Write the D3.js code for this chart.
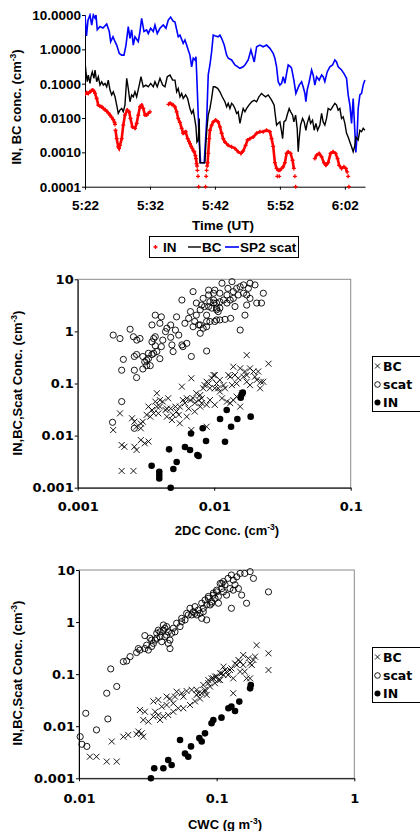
<!DOCTYPE html>
<html>
<head>
<meta charset="utf-8">
<script src="https://cdn.jsdelivr.net/npm/d3@7"></script>
<style>
  body { margin: 0; background: #fff; }
</style>
</head>
<body>
<script>
// ---- data: top panel (time in minutes after 5:00 UT, conc. in cm-3) ----
const timeTicks = [22, 32, 42, 52, 62];
const topYTicks = [0.0001, 0.001, 0.01, 0.1, 1, 10];

const sp2Scat = [[22.0,10],[22.23,2.44],[22.46,7.1],[22.77,10],[23.03,5.1],[23.28,10],[23.54,8.2],[23.69,10],[23.89,3.7],[24.31,4.6],[24.77,4.2],[25.34,5.5],[25.74,3.3],[25.95,1.67],[26.31,2.33],[26.62,1.67],[26.88,1.33],[27.28,0.76],[27.65,0.68],[28.0,0.68],[28.31,1.33],[28.66,4.6],[28.92,2.1],[29.18,3.7],[29.43,1.33],[29.69,2.33],[30.2,1.67],[30.46,3.3],[30.72,8.0],[31.08,3.3],[31.49,3.7],[31.74,2.9],[32.11,4.1],[32.51,3.3],[32.77,5.1],[33.12,2.9],[33.54,4.1],[34.05,5.1],[34.46,4.1],[34.82,7.1],[35.18,8.7],[35.54,6.7],[35.85,6.2],[36.35,2.33],[36.62,2.6],[37.12,1.5],[37.38,1.87],[37.65,1.33],[37.89,0.95],[38.15,0.68],[38.42,0.31],[38.66,0.55],[38.92,0.49],[39.08,0.61],[39.18,0.22],[39.43,0.0122],[39.58,0.002],[39.8,0.0005],[40.35,0.0005],[40.72,0.0077],[40.97,0.18],[41.23,0.35],[41.49,0.85],[41.74,2.6],[42.0,2.5],[42.51,2.33],[42.77,2.6],[43.03,2.1],[43.43,1.33],[43.8,0.68],[44.05,0.55],[44.57,0.49],[45.08,0.35],[45.85,0.28],[46.35,0.31],[46.62,0.35],[47.12,0.49],[47.54,0.95],[47.89,0.55],[48.05,0.43],[48.42,1.19],[48.92,1.33],[49.43,1.19],[49.95,1.33],[50.46,1.07],[50.97,0.76],[51.23,0.55],[51.49,0.31],[51.74,0.114],[52.0,0.091],[52.26,0.102],[52.51,0.159],[52.77,0.102],[53.03,0.2],[53.28,0.35],[53.65,0.31],[53.8,0.28],[54.15,0.127],[54.46,0.052],[54.66,0.065],[54.97,0.091],[55.34,0.114],[55.58,0.081],[55.85,0.052],[56.0,0.030],[56.2,0.065],[56.51,0.114],[56.88,0.25],[57.12,0.18],[57.38,0.091],[57.65,0.159],[58.05,0.127],[58.42,0.18],[58.66,0.159],[58.92,0.114],[59.28,0.22],[59.69,0.31],[60.11,0.35],[60.46,0.49],[60.72,0.43],[60.97,0.31],[61.49,0.25],[61.85,0.2],[62.26,0.143],[62.51,0.047],[62.77,0.024],[63.03,0.007],[63.28,0.037],[63.54,0.004],[63.69,0.001],[63.89,0.0032],[64.05,0.019],[64.31,0.047],[64.57,0.052],[64.82,0.091],[65.08,0.127]];

const bcTime = [[22.0,0.43],[22.15,0.22],[22.35,0.114],[22.51,0.178],[22.77,0.102],[22.92,0.159],[23.12,0.22],[23.38,0.143],[23.54,0.25],[23.8,0.114],[24.05,0.159],[24.31,0.091],[24.57,0.114],[24.82,0.091],[25.08,0.102],[25.34,0.081],[25.58,0.127],[25.85,0.065],[26.11,0.047],[26.35,0.058],[26.62,0.0415],[26.88,0.0238],[27.12,0.0136],[27.38,0.017],[27.65,0.019],[27.89,0.0152],[28.15,0.0238],[28.42,0.143],[28.66,0.073],[28.92,0.0297],[29.18,0.047],[29.43,0.0415],[29.69,0.058],[29.95,0.0415],[30.35,0.091],[30.62,0.159],[30.97,0.081],[31.38,0.091],[31.74,0.081],[32.11,0.102],[32.51,0.081],[32.77,0.114],[33.12,0.081],[33.54,0.143],[33.95,0.091],[34.31,0.081],[34.66,0.159],[35.08,0.178],[35.49,0.127],[35.85,0.127],[36.11,0.058],[36.35,0.073],[36.62,0.0415],[36.88,0.052],[37.12,0.037],[37.49,0.047],[37.8,0.037],[38.15,0.019],[38.42,0.0136],[38.66,0.017],[38.92,0.0087],[39.08,0.0055],[39.23,0.002],[39.43,0.0023],[39.58,0.0097],[39.69,0.0005],[40.46,0.0005],[40.62,0.002],[40.77,0.005],[40.97,0.0122],[41.23,0.019],[41.49,0.037],[41.74,0.081],[42.0,0.081],[42.42,0.073],[42.77,0.058],[43.12,0.0415],[43.54,0.0297],[43.8,0.0212],[44.05,0.0267],[44.31,0.019],[44.57,0.0267],[44.82,0.0238],[45.08,0.019],[45.34,0.0136],[45.58,0.0152],[45.85,0.007],[46.11,0.0122],[46.35,0.019],[46.62,0.0152],[46.88,0.019],[47.23,0.0238],[47.65,0.0297],[48.05,0.033],[48.42,0.0297],[48.77,0.0415],[49.18,0.052],[49.43,0.047],[49.8,0.0415],[50.2,0.047],[50.72,0.033],[51.12,0.0238],[51.23,0.0152],[51.49,0.0062],[51.74,0.007],[52.0,0.0077],[52.26,0.004],[52.42,0.0025],[52.62,0.0077],[52.92,0.0087],[53.12,0.0122],[53.43,0.019],[53.65,0.0152],[53.95,0.0122],[54.15,0.0077],[54.42,0.0122],[54.66,0.005],[54.82,0.00104],[54.97,0.0025],[55.18,0.0062],[55.49,0.0097],[55.74,0.0077],[56.0,0.0044],[56.2,0.007],[56.51,0.0108],[56.72,0.007],[57.03,0.0087],[57.28,0.0044],[57.54,0.007],[57.8,0.0044],[58.15,0.0062],[58.42,0.0136],[58.66,0.0077],[58.92,0.0062],[59.18,0.0097],[59.43,0.019],[59.8,0.017],[60.11,0.0212],[60.46,0.0267],[60.72,0.0238],[60.97,0.017],[61.23,0.019],[61.49,0.0097],[61.74,0.0108],[62.0,0.007],[62.26,0.0036],[62.51,0.0028],[62.77,0.002],[63.03,0.00145],[63.28,0.00104],[63.54,0.0016],[63.69,0.0028],[63.89,0.0025],[64.05,0.0023],[64.31,0.0044],[64.57,0.004],[64.82,0.005],[65.08,0.0044]];

// null = gap in the IN record
const inTime = [[22.0,0.050],[22.26,0.055],[22.51,0.052],[22.77,0.058],[23.0,0.063],[23.2,0.065],[23.4,0.06],[23.54,0.052],[23.8,0.037],[24.05,0.0238],[24.31,0.022],[24.6,0.0212],[24.82,0.019],[25.1,0.0175],[25.34,0.0159],[25.6,0.014],[25.85,0.0122],[26.1,0.0105],[26.35,0.009],[26.55,0.0075],[26.62,0.0065],null,
[26.7,0.0044],[26.88,0.0025],[27.12,0.00145],[27.25,0.0013],[27.38,0.0016],[27.65,0.0025],[27.89,0.0062],[28.15,0.0122],[28.5,0.017],[28.8,0.0152],[29.0,0.0097],[29.3,0.0055],[29.69,0.005],[29.95,0.007],[30.2,0.0122],[30.46,0.0212],[30.72,0.0238],[30.97,0.019],[31.23,0.0122],[31.49,0.0122],[31.74,0.0136],[32.0,0.0152],null,
[34.85,0.025],[35.1,0.0267],[35.35,0.025],[35.58,0.0238],[35.85,0.021],[36.11,0.0152],[36.35,0.0097],[36.6,0.0075],[36.88,0.005],[37.12,0.0036],[37.3,0.0038],[37.49,0.004],[37.8,0.0025],[38.0,0.0021],[38.15,0.0018],[38.35,0.0015],[38.51,0.0013],[38.7,0.0011],[38.82,0.00104],[39.0,0.0008],[39.08,0.00066],[39.18,0.00047],[39.25,0.0004],null,
[39.3,0.0003],null,[39.4,0.0002],null,[39.5,0.0001],null,
[40.55,0.0001],null,[40.65,0.0002],null,[40.72,0.0003],null,
[40.8,0.0004],[40.88,0.0005],[40.97,0.00093],[41.12,0.0025],[41.23,0.0044],[41.49,0.0062],[41.74,0.0077],[42.11,0.0087],[42.51,0.0077],[42.77,0.0055],[43.03,0.0036],[43.28,0.0025],[43.54,0.002],[44.05,0.0016],[44.57,0.00145],[45.08,0.0013],[45.58,0.00104],[46.0,0.00093],[46.35,0.0011],[46.72,0.0016],[47.03,0.0023],[47.38,0.0025],[47.89,0.0028],[48.42,0.0036],[48.92,0.004],[49.43,0.004],[49.95,0.0044],[50.46,0.004],[50.72,0.0025],[50.97,0.0015],[51.23,0.0005],[51.49,0.00034],[51.74,0.0003],[52.0,0.0003],[52.26,0.00034],[52.51,0.00038],[52.77,0.0005],[53.03,0.00093],[53.28,0.00104],[53.65,0.00093],[53.95,0.00059],[54.15,0.00034],null,
[54.31,0.0002],null,[54.42,0.0001],null,[51.6,0.0002],null,[51.9,0.0002],null,
[57.38,0.00066],[57.65,0.00083],[58.05,0.00093],[58.42,0.00074],[58.77,0.0005],[59.08,0.00042],[59.43,0.0005],[59.8,0.00093],[60.2,0.00104],[60.57,0.00093],[60.88,0.00066],[61.12,0.00042],[61.49,0.00034],[61.85,0.00038],[62.15,0.00034],[62.35,0.00027],null,
[62.51,0.0002],null,[62.62,0.0001]];

// ---- data: scatter panels ([x, conc]) ----
const scatYTicks = [0.001, 0.01, 0.1, 1, 10];
const ticks2DC = [0.001, 0.01, 0.1];
const ticksCWC = [0.01, 0.1, 1];

const scat2DC = [[0.00182,0.85],[0.00204,0.73],[0.00242,1.1],[0.00256,0.79],[0.00271,0.68],[0.00286,0.73],[0.00216,0.29],[0.0021,0.18],[0.0026,0.18],[0.0027,0.13],[0.0026,0.33],[0.0027,0.36],[0.0030,0.33],[0.0031,0.26],[0.0032,0.22],[0.0034,0.22],[0.0033,0.30],[0.0035,0.36],[0.0036,0.38],[0.0037,0.53],[0.0036,0.73],[0.0037,0.79],[0.0038,0.41],[0.0040,0.30],[0.0041,0.51],[0.0042,0.68],[0.0044,0.99],[0.0045,1.15],[0.0048,1.33],[0.0049,0.55],[0.0050,0.41],[0.0041,1.9],[0.0037,2.05],[0.0040,1.43],[0.0035,1.33],[0.0052,1.06],[0.0053,1.9],[0.0055,0.85],[0.0058,0.55],[0.0059,0.51],[0.0063,0.59],[0.0061,1.43],[0.0065,1.78],[0.0067,2.4],[0.0068,0.33],[0.0070,1.23],[0.0072,1.55],[0.0074,2.05],[0.0077,1.33],[0.0070,5.8],[0.0058,4.0],[0.0081,3.2],[0.0083,4.3],[0.0088,0.42],[0.0091,5.0],[0.0093,3.7],[0.0099,3.5],[0.0101,6.2],[0.0104,1.66],[0.0114,8.4],[0.0104,2.6],[0.0088,1.55],[0.0091,3.0],[0.0110,2.8],[0.0079,1.33],[0.0083,1.15],[0.0088,1.23],[0.0093,1.55],[0.0101,1.55],[0.0110,1.66],[0.0120,1.7],[0.0132,1.78],[0.0142,3.0],[0.0155,1.06],[0.0168,2.05],[0.0173,3.2],[0.0205,3.5],[0.0222,3.5],[0.0229,5.4],[0.0183,8.4],[0.0199,7.8],[0.0164,7.8],[0.0135,9.0],[0.0091,6.2],[0.0085,3.0],[0.0099,4.0],[0.0104,2.8],[0.0126,6.7],[0.0138,5.8],[0.0146,6.7],[0.0155,7.2],[0.0164,5.4],[0.0173,5.0],[0.0183,4.3],[0.0178,6.7],[0.0138,4.3],[0.0150,5.0],[0.0124,5.0],[0.0117,4.0],[0.0107,2.4],[0.0096,2.8],[0.0088,2.05],[0.0079,0.92],[0.0021,0.045],[0.0018,0.018],[0.0026,0.0138],[0.0032,0.28],[0.0030,0.19],[0.0035,0.63],[0.0033,0.38],[0.0048,0.77],[0.0079,2.6],[0.0074,3.5],[0.0099,5.4],[0.0110,5.4],[0.0124,3.5],[0.0131,4.0],[0.0110,3.7],[0.0104,3.5]];

const bc2DC = [[0.00182,0.0128],[0.00204,0.0267],[0.0021,0.0066],[0.0022,0.0061],[0.0021,0.0021],[0.00256,0.0021],[0.0026,0.0061],[0.0027,0.0053],[0.0031,0.0071],[0.0033,0.0077],[0.0025,0.0215],[0.0026,0.0185],[0.0027,0.0148],[0.0029,0.0138],[0.0030,0.0185],[0.0032,0.025],[0.0033,0.036],[0.0035,0.031],[0.0037,0.045],[0.0038,0.065],[0.0040,0.036],[0.0042,0.045],[0.0044,0.031],[0.0046,0.052],[0.0048,0.033],[0.0050,0.025],[0.0052,0.036],[0.0055,0.025],[0.0058,0.087],[0.0059,0.048],[0.0063,0.052],[0.0065,0.033],[0.0068,0.126],[0.0070,0.052],[0.0072,0.042],[0.0079,0.06],[0.0083,0.081],[0.0085,0.093],[0.0091,0.10],[0.0096,0.126],[0.0101,0.145],[0.0107,0.081],[0.0088,0.0148],[0.0079,0.036],[0.0093,0.048],[0.0173,0.35],[0.025,0.24],[0.0138,0.21],[0.0127,0.145],[0.0155,0.195],[0.0183,0.195],[0.0194,0.17],[0.021,0.17],[0.022,0.108],[0.0217,0.081],[0.0164,0.135],[0.0173,0.108],[0.0183,0.093],[0.0099,0.145],[0.0088,0.108],[0.0093,0.081],[0.0101,0.081],[0.0110,0.07],[0.0120,0.081],[0.0135,0.093],[0.0146,0.10],[0.0114,0.052],[0.0124,0.045],[0.0131,0.042],[0.0155,0.036],[0.0088,0.039],[0.0101,0.039],[0.0081,0.052],[0.0081,0.042],[0.016,0.065],[0.0173,0.145],[0.0038,0.036],[0.0034,0.0231],[0.0036,0.0267],[0.0039,0.0267],[0.0045,0.033],[0.0049,0.0199],[0.0053,0.029],[0.0056,0.036],[0.0061,0.042],[0.0067,0.048],[0.0074,0.065],[0.0077,0.048],[0.0104,0.10],[0.0110,0.117],[0.0117,0.093],[0.0131,0.135],[0.0142,0.145],[0.0150,0.126],[0.0168,0.17],[0.0199,0.135],[0.0205,0.117],[0.0229,0.108],[0.0029,0.0082],[0.0029,0.017],[0.0040,0.048],[0.0045,0.0231],[0.0056,0.0172],[0.0063,0.0231],[0.0072,0.029],[0.0138,0.048],[0.0146,0.056],[0.0068,0.0128]];

const in2DC = [[0.00348,0.00264],[0.00396,0.00203],[0.00396,0.00175],[0.00396,0.00151],[0.0048,0.001],[0.00467,0.00545],[0.00502,0.00228],[0.00531,0.00311],[0.00611,0.00604],[0.00665,0.00528],[0.00676,0.0110],[0.00753,0.00424],[0.00769,0.00405],[0.00824,0.0138],[0.00871,0.00787],[0.01104,0.0208],[0.0120,0.00764],[0.01235,0.0310],[0.01329,0.0148],[0.01478,0.0208],[0.01564,0.0534],[0.0159,0.062],[0.0162,0.0667],[0.0185,0.0231]];

const scatCWC = [[0.0102,0.0063],[0.0105,0.0045],[0.0114,0.0041],[0.0112,0.0177],[0.0134,0.0085],[0.0162,0.0138],[0.0159,0.043],[0.0188,0.058],[0.0170,0.126],[0.0210,0.174],[0.0222,0.179],[0.0235,0.217],[0.0262,0.26],[0.0277,0.29],[0.0270,0.31],[0.0301,0.31],[0.0310,0.36],[0.0319,0.29],[0.0337,0.34],[0.0347,0.39],[0.0357,0.45],[0.0367,0.61],[0.0388,0.52],[0.0399,0.42],[0.0410,0.70],[0.0421,0.76],[0.0433,0.82],[0.0445,0.65],[0.0458,0.45],[0.0471,0.61],[0.0377,0.70],[0.0410,0.88],[0.0301,0.55],[0.0328,0.49],[0.0421,0.52],[0.0445,0.39],[0.0458,0.31],[0.0498,0.65],[0.0512,0.95],[0.0542,0.82],[0.0557,1.18],[0.0589,1.10],[0.0622,1.37],[0.0640,1.84],[0.0677,1.58],[0.0696,1.98],[0.0716,1.37],[0.0736,1.71],[0.0779,2.3],[0.0800,1.84],[0.0823,2.65],[0.0846,1.10],[0.0870,3.1],[0.0895,2.13],[0.0920,2.47],[0.0946,3.3],[0.0973,2.86],[0.100,3.8],[0.103,2.3],[0.106,5.5],[0.109,4.4],[0.112,6.0],[0.0779,1.18],[0.0800,1.58],[0.0846,2.13],[0.087,2.86],[0.092,2.3],[0.0946,3.6],[0.100,4.1],[0.103,3.1],[0.109,5.5],[0.112,3.8],[0.115,5.2],[0.118,3.3],[0.125,4.4],[0.128,1.84],[0.132,6.4],[0.136,5.2],[0.140,7.4],[0.144,4.4],[0.148,8.6],[0.152,3.3],[0.160,8.6],[0.165,2.3],[0.175,9.3],[0.185,6.9],[0.238,3.8],[0.132,4.1],[0.121,6.9],[0.128,8.0],[0.0605,1.47],[0.0658,1.37],[0.0757,1.47],[0.0696,1.47],[0.0557,1.02],[0.0484,0.76],[0.0388,0.65],[0.0367,0.49],[0.0337,0.45],[0.0433,0.56]];

const bcCWC = [[0.0120,0.0026],[0.0134,0.0026],[0.0159,0.0021],[0.0188,0.0021],[0.0173,0.0051],[0.0210,0.0063],[0.0228,0.0068],[0.0270,0.0079],[0.0262,0.0070],[0.0285,0.0073],[0.0293,0.0063],[0.0277,0.0205],[0.0301,0.019],[0.0293,0.0132],[0.0319,0.0123],[0.0347,0.030],[0.0377,0.032],[0.0399,0.0238],[0.0433,0.0256],[0.0458,0.034],[0.0498,0.037],[0.0512,0.046],[0.0557,0.043],[0.0605,0.0475],[0.0658,0.050],[0.0716,0.040],[0.0736,0.043],[0.0800,0.062],[0.0870,0.077],[0.0920,0.083],[0.0973,0.090],[0.103,0.077],[0.109,0.104],[0.112,0.139],[0.0357,0.019],[0.0377,0.0164],[0.0410,0.0153],[0.0445,0.0164],[0.0484,0.019],[0.0527,0.0221],[0.0573,0.0221],[0.0640,0.0256],[0.0696,0.030],[0.0757,0.034],[0.0823,0.046],[0.0347,0.0153],[0.0388,0.0132],[0.195,0.36],[0.238,0.251],[0.238,0.120],[0.175,0.083],[0.132,0.043],[0.156,0.233],[0.170,0.201],[0.185,0.187],[0.180,0.150],[0.148,0.174],[0.140,0.150],[0.128,0.129],[0.118,0.112],[0.112,0.096],[0.106,0.077],[0.0973,0.067],[0.0895,0.058],[0.0823,0.050],[0.0779,0.043],[0.121,0.096],[0.148,0.112],[0.160,0.112],[0.165,0.083],[0.132,0.083],[0.106,0.104],[0.0946,0.083],[0.0846,0.040],[0.156,0.150],[0.125,0.120],[0.136,0.161],[0.144,0.187],[0.175,0.161],[0.190,0.217],[0.100,0.090],[0.115,0.120],[0.087,0.067],[0.0716,0.050],[0.0573,0.037],[0.0484,0.0275],[0.0433,0.037]];

const inCWC = [[0.0333,0.001],[0.0352,0.00156],[0.0410,0.00156],[0.0445,0.00225],[0.0471,0.0018],[0.0542,0.00545],[0.0589,0.0030],[0.0622,0.0026],[0.0651,0.0041],[0.0749,0.0059],[0.0779,0.0051],[0.0823,0.0073],[0.0918,0.0114],[0.0946,0.0132],[0.1084,0.0146],[0.1217,0.0221],[0.128,0.0238],[0.136,0.0196],[0.146,0.0297],[0.175,0.0534],[0.177,0.062]];

// ---- drawing ----
const FONT = '"Liberation Sans", Arial, Helvetica, sans-serif';
const WIDE = '"DejaVu Sans", Verdana, sans-serif';
const svg = d3.select("body").append("svg")
    .attr("width", 420).attr("height", 831)
    .attr("font-family", FONT).attr("font-weight", "bold");

function styleAxis(g, size, family) {
  g.attr("font-family", family || FONT).attr("font-size", size).attr("font-weight", "bold");
  g.selectAll("text").attr("fill", "#000");
  g.selectAll("line,path").attr("stroke", "#000");
}

// text with a "cm-3" style superscript
function supText(parent, x, y, pre, sup, post, size, rotate) {
  const t = parent.append("text")
    .attr("text-anchor", "middle").attr("font-size", size)
    .attr("transform", `translate(${x},${y})` + (rotate ? " rotate(-90)" : ""));
  t.append("tspan").text(pre);
  t.append("tspan").text(sup).attr("font-size", size * 0.65).attr("dy", -size * 0.4);
  t.append("tspan").text(post).attr("dy", size * 0.4);
  return t;
}

// ===== top panel: time series =====
const xTime = d3.scaleLinear().domain([22, 65.1]).range([85, 365]);
const yTop = d3.scaleLog().domain([0.0001, 10]).range([186.7, 15]);
const fmtTime = m => `${5 + Math.floor(m / 60)}:${String(m % 60).padStart(2, "0")}`;

svg.append("clipPath").attr("id", "clipTop")
  .append("rect").attr("x", 85).attr("y", 13).attr("width", 282).attr("height", 176);

const gx = svg.append("g").attr("transform", "translate(0,186.7)")
  .call(d3.axisBottom(xTime).tickValues(timeTicks).tickFormat(fmtTime)
    .tickSize(3).tickPadding(11).tickSizeOuter(0));
styleAxis(gx, 13.5);

const gy = svg.append("g").attr("transform", "translate(85,0)")
  .call(d3.axisLeft(yTop).tickValues(topYTicks).tickFormat(d3.format(".4f"))
    .tickSize(3).tickPadding(1).tickSizeOuter(0));
styleAxis(gy, 13.5);

const lineTop = d3.line().defined(d => d != null)
  .x(d => xTime(d[0])).y(d => yTop(d[1]));

const plotTop = svg.append("g").attr("clip-path", "url(#clipTop)");
plotTop.append("path").datum(sp2Scat).attr("d", lineTop)
  .attr("fill", "none").attr("stroke", "#0000ff").attr("stroke-width", 1.6);
plotTop.append("path").datum(bcTime).attr("d", lineTop)
  .attr("fill", "none").attr("stroke", "#000").attr("stroke-width", 1.4);
plotTop.append("path").datum(inTime).attr("d", lineTop)
  .attr("fill", "none").attr("stroke", "#ff0000").attr("stroke-width", 2.6);
const plus = "M-2,0H2M0,-2V2";
plotTop.selectAll(".inpt").data(inTime.filter(d => d != null)).enter()
  .append("path").attr("class", "inpt")
  .attr("transform", d => `translate(${xTime(d[0])},${yTop(d[1])})`)
  .attr("d", plus).attr("stroke", "#ff0000").attr("stroke-width", 1.3);

svg.append("text").attr("x", 223).attr("y", 229.5).attr("text-anchor", "middle")
  .attr("font-size", 13.5).text("Time (UT)");
supText(svg, 21, 107, "IN, BC conc. (cm", "-3", ")", 13, true);

// legend
const lg = svg.append("g");
lg.append("rect").attr("x", 149.5).attr("y", 236.5).attr("width", 149).attr("height", 21)
  .attr("fill", "#fff").attr("stroke", "#000");
lg.append("path").attr("d", plus).attr("transform", "translate(155.5,247)")
  .attr("stroke", "#ff0000").attr("stroke-width", 1.3);
lg.append("text").attr("x", 163).attr("y", 251.5).attr("font-size", 13.5).text("IN");
lg.append("line").attr("x1", 188).attr("x2", 201).attr("y1", 247).attr("y2", 247)
  .attr("stroke", "#000").attr("stroke-width", 1.4);
lg.append("text").attr("x", 202).attr("y", 251.5).attr("font-size", 13.5).text("BC");
lg.append("line").attr("x1", 225).attr("x2", 239).attr("y1", 247).attr("y2", 247)
  .attr("stroke", "#0000ff").attr("stroke-width", 1.6);
lg.append("text").attr("x", 240).attr("y", 251.5).attr("font-size", 13.5).text("SP2 scat");

// ===== scatter panels =====
const cross = "M-3,-3L3,3M-3,3L3,-3";

function scatterPanel(o) {
  const x = d3.scaleLog().domain(o.xDomain).range([o.left, o.right]);
  const y = d3.scaleLog().domain([0.001, 10]).range([o.bottom, o.top]);
  const g = svg.append("g");

  g.append("rect").attr("x", o.left).attr("y", o.top)
    .attr("width", o.right - o.left).attr("height", o.bottom - o.top)
    .attr("fill", "none").attr("stroke", "#8a8a8a");

  const ax = g.append("g").attr("transform", `translate(0,${o.bottom})`)
    .call(d3.axisBottom(x).tickValues(o.xTicks).tickFormat(d => String(d))
      .tickSize(3).tickPadding(o.xPad).tickSizeOuter(0));
  styleAxis(ax, 13, WIDE);
  const ay = g.append("g").attr("transform", `translate(${o.left},0)`)
    .call(d3.axisLeft(y).tickValues(scatYTicks).tickFormat(d => String(d))
      .tickSize(3).tickPadding(1).tickSizeOuter(0));
  styleAxis(ay, 13, WIDE);

  g.selectAll(".sc").data(o.scat).enter().append("circle").attr("class", "sc")
    .attr("cx", d => x(d[0])).attr("cy", d => y(d[1])).attr("r", 3.1)
    .attr("fill", "none").attr("stroke", "#000").attr("stroke-width", 0.9);
  g.selectAll(".bc").data(o.bc).enter().append("path").attr("class", "bc")
    .attr("transform", d => `translate(${x(d[0])},${y(d[1])})`)
    .attr("d", cross).attr("stroke", "#000").attr("stroke-width", 0.9);
  g.selectAll(".in").data(o.inp).enter().append("circle").attr("class", "in")
    .attr("cx", d => x(d[0])).attr("cy", d => y(d[1])).attr("r", 3.3).attr("fill", "#000");

  // titles
  const xt = g.append("text").attr("x", o.xTitleX).attr("y", o.xTitleY)
    .attr("text-anchor", "middle").attr("font-size", 13);
  xt.append("tspan").text(o.xTitle[0]);
  xt.append("tspan").text("-3").attr("font-size", 8.5).attr("dy", -5);
  xt.append("tspan").text(o.xTitle[1]).attr("dy", 5);
  supText(g, 22, o.yTitleY, "IN,BC,Scat Conc. (cm", "-3", ")", 13, true);

  // legend
  const L = g.append("g");
  L.append("rect").attr("x", 372.5).attr("y", o.legTop).attr("width", 50).attr("height", 55)
    .attr("fill", "#fff").attr("stroke", "#000");
  const rows = [o.legTop + 9.5, o.legTop + 28, o.legTop + 46];
  L.append("path").attr("d", "M-2.5,-2.5L2.5,2.5M-2.5,2.5L2.5,-2.5")
    .attr("transform", `translate(377.5,${rows[0]})`).attr("stroke", "#000").attr("stroke-width", 0.9);
  L.append("circle").attr("cx", 377.5).attr("cy", rows[1]).attr("r", 2.8)
    .attr("fill", "none").attr("stroke", "#000").attr("stroke-width", 0.9);
  L.append("circle").attr("cx", 377.5).attr("cy", rows[2]).attr("r", 3).attr("fill", "#000");
  ["BC", "scat", "IN"].forEach((s, i) =>
    L.append("text").attr("x", 383).attr("y", rows[i] + 4.5)
      .attr("font-family", WIDE).attr("font-size", 12.5).text(s));
}

scatterPanel({
  xDomain: [0.001, 0.1], xTicks: ticks2DC,
  left: 77.7, right: 350.7, top: 279.3, bottom: 487.7, xPad: 11,
  scat: scat2DC, bc: bc2DC, inp: in2DC,
  xTitle: ["2DC Conc. (cm", ")"], xTitleX: 227, xTitleY: 535,
  yTitleY: 383, legTop: 356.5
});

scatterPanel({
  xDomain: [0.01, 1], xTicks: ticksCWC,
  left: 79, right: 354.3, top: 570, bottom: 778.3, xPad: 12,
  scat: scatCWC, bc: bcCWC, inp: inCWC,
  xTitle: ["CWC (g m", ")"], xTitleX: 225, xTitleY: 829,
  yTitleY: 673, legTop: 647.5
});
</script>
</body>
</html>
